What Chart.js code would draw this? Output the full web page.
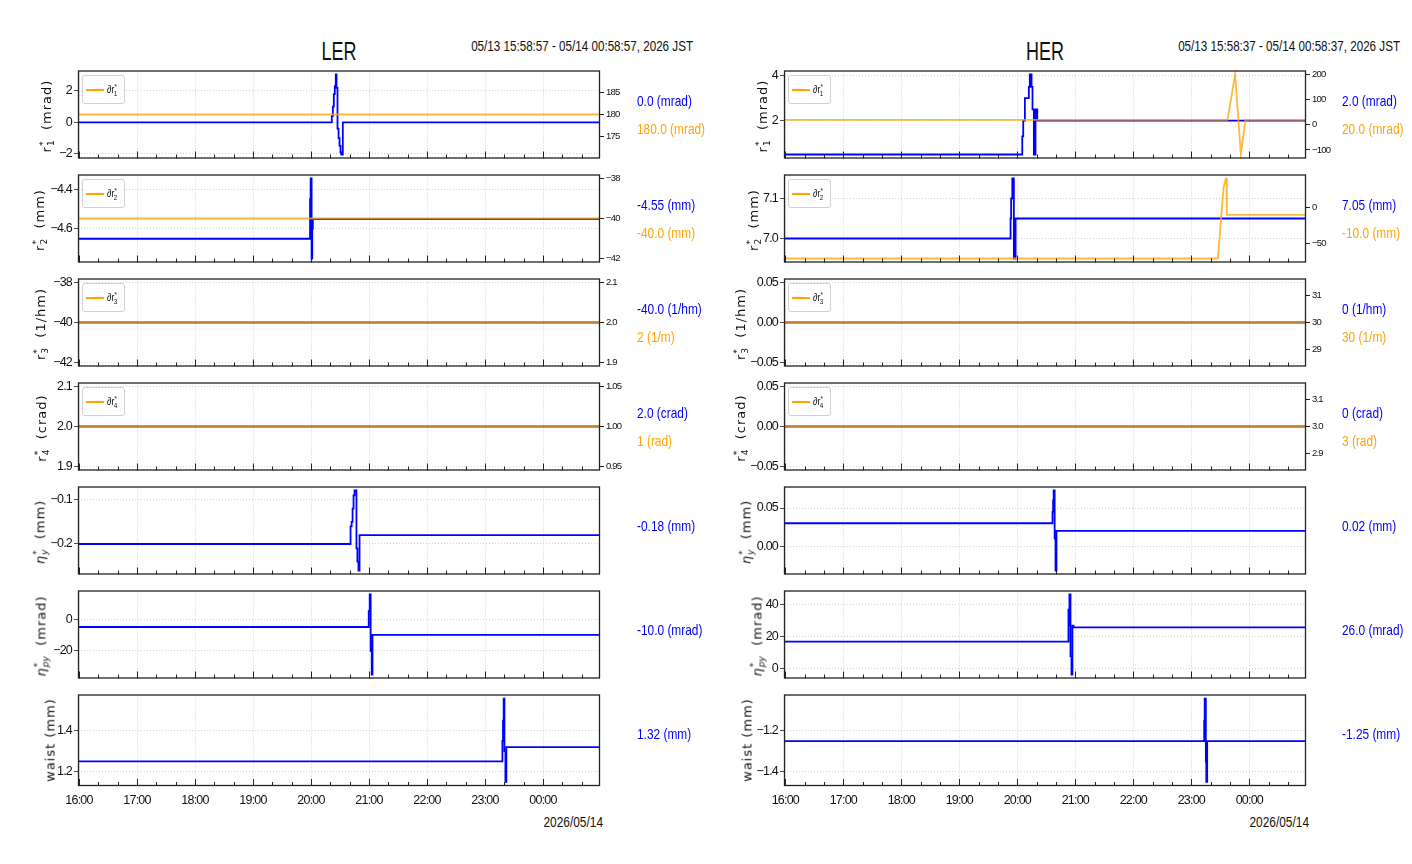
<!DOCTYPE html>
<html>
<head>
<meta charset="utf-8">
<script src="https://cdn.jsdelivr.net/npm/chart.js@4.4.1/dist/chart.umd.min.js"></script>
<style>
  body { margin: 0; background: #fff; }
  #fig { position: relative; width: 1412px; height: 864px; overflow: hidden;
         font-family: "Liberation Sans", Arial, sans-serif; color: #111; }
  #fig canvas { position: absolute; }
  .txt { position: absolute; white-space: nowrap; line-height: 1; }
  .txt > span { display: inline-block; }
  .ylab { position: absolute; white-space: nowrap; font-family: "DejaVu Sans", sans-serif; font-size: 13px;
          letter-spacing: 1px; line-height: 1; transform: translate(-50%, -50%) rotate(-90deg); }
  .sp { font-size: 0.7em; position: relative; top: -0.5em; letter-spacing: 0; }
  .sb { font-size: 0.7em; position: relative; top: 0.35em; margin-left: -0.5em; letter-spacing: 0; }
  .legend { position: absolute; width: 43px; height: 29px; border: 1px solid #d0d0d0; border-radius: 3px;
            background: rgba(255,255,255,0.85); box-sizing: border-box; }
  .legend .ln { position: absolute; left: 3px; top: 13px; width: 18px; height: 2px; background: #ffa500; }
  .legend .lt { position: absolute; left: 24px; top: 8px; font-size: 11px; white-space: nowrap; line-height: 1;
                transform: scaleX(0.82); transform-origin: left; }
</style>
</head>
<body>
<div id="fig"></div>
<script>
const TICK_FONT = '"Liberation Sans", Arial, sans-serif';
const BLUE = '#0000ff';
const ORANGE = 'rgba(255,165,0,0.78)';

// time axis: minutes after 05/13 16:00 JST
const HOUR_TICKS = [0, 60, 120, 180, 240, 300, 360, 420, 480];
const HOUR_LABELS = ['16:00', '17:00', '18:00', '19:00', '20:00', '21:00', '22:00', '23:00', '00:00'];
const MINOR_TICKS = [20, 40, 80, 100, 140, 160, 200, 220, 260, 280, 320, 340, 380, 400, 440, 460, 500, 520];
const LER_SPAN = [-1.05, 538.95];   // 15:58:57 .. 00:58:57
const HER_SPAN = [-1.38, 538.62];   // 15:58:37 .. 00:58:37

// ---- LER measured (blue, left axis) and set values (orange, right axis) ----
const LER_R1_T = [-1.05, 261.5, 262.6, 263.6, 264.6, 265.6, 266.4, 267.4, 268.5, 269.5, 270.5, 271.2, 272.9, 538.95];
const LER_R1 = [0, 0.4, 1.0, 1.8, 2.3, 3.05, 2.2, -0.4, -1.0, -1.5, -1.9, -2.05, 0, 0];
const LER_R1_SET = [180, 180];
const LER_R2_T = [-1.05, 239.0, 239.6, 240.6, 241.3, 241.9, 538.95];
const LER_R2 = [-4.65, -4.45, -4.345, -4.75, -4.6, -4.55, -4.55];
const LER_R2_SET = [-40, -40];
const LER_R3 = [-40, -40];
const LER_R3_SET = [2, 2];
const LER_R4 = [2.0, 2.0];
const LER_R4_SET = [1, 1];
const LER_NY_T = [-1.05, 280.9, 282.0, 283.0, 284.0, 285.0, 287.0, 288.0, 289.1, 290.2, 538.95];
const LER_NY = [-0.2, -0.16, -0.15, -0.12, -0.09, -0.079, -0.21, -0.24, -0.26, -0.18, -0.18];
const LER_NPY_T = [-1.05, 299.7, 300.7, 301.7, 302.8, 303.6, 538.95];
const LER_NPY = [-5, 5, 15.5, -20, -35, -10, -10];
const LER_WAIST_T = [-1.05, 438.0, 438.6, 439.3, 440.1, 441.1, 442.1, 538.95];
const LER_WAIST = [1.25, 1.35, 1.45, 1.557, 1.3, 1.15, 1.32, 1.32];

// ---- HER ----
const HER_R1_T = [-1.38, 245.1, 246.1, 247.8, 251.9, 252.9, 254.7, 255.7, 257.1, 258.8, 260.6, 538.62];
const HER_R1 = [0.5, 1.3, 2.0, 3.0, 3.5, 4.05, 3.5, 2.5, 0.5, 2.5, 2.0, 2.0];
const HER_R1_SET_T = [-1.38, 457.4, 465.3, 471.2, 476.0, 538.62];
const HER_R1_SET = [20, 20, 200, -118, 20, 20];
const HER_R2_T = [-1.38, 233.0, 233.6, 234.8, 236.4, 238.2, 538.62];
const HER_R2 = [7.0, 7.05, 7.1, 7.15, 6.95, 7.05, 7.05];
const HER_R2_SET_T = [-1.38, 447.5, 453.3, 455.7, 456.3, 456.8, 538.62];
const HER_R2_SET = [-71, -71, 28, 41, 41, -10, -10];
const HER_R3 = [0, 0];
const HER_R3_SET = [30, 30];
const HER_R4 = [0, 0];
const HER_R4_SET = [3, 3];
const HER_NY_T = [-1.38, 276.4, 277.0, 277.6, 278.6, 279.5, 280.5, 538.62];
const HER_NY = [0.03, 0.045, 0.06, 0.073, 0.01, -0.032, 0.02, 0.02];
const HER_NPY_T = [-1.38, 292.9, 293.4, 293.9, 295.0, 296.0, 297.0, 298.1, 538.62];
const HER_NPY = [17, 37, 27, 46.5, 8, -3.5, 27, 26, 26];
const HER_WAIST_T = [-1.38, 433.3, 433.8, 434.3, 435.0, 435.5, 436.4, 538.62];
const HER_WAIST = [-1.25, -1.15, -1.043, -1.043, -1.35, -1.448, -1.25, -1.25];

// ---- tick values ----
const LER_YTICKS = [[-2, 0, 2], [-4.6, -4.4], [-42, -40, -38], [1.9, 2.0, 2.1], [-0.2, -0.1], [-20, 0], [1.2, 1.4]];
const LER_YDEC = [0, 1, 0, 1, 1, 0, 1];
const LER_Y2TICKS = [[175, 180, 185], [-42, -40, -38], [1.9, 2.0, 2.1], [0.95, 1.00, 1.05]];
const LER_Y2DEC = [0, 0, 1, 2];
const HER_YTICKS = [[2, 4], [7.0, 7.1], [-0.05, 0, 0.05], [-0.05, 0, 0.05], [0, 0.05], [0, 20, 40], [-1.4, -1.2]];
const HER_YDEC = [0, 1, 2, 2, 2, 0, 1];
const HER_Y2TICKS = [[-100, 0, 100, 200], [-50, 0], [29, 30, 31], [2.9, 3.0, 3.1]];
const HER_Y2DEC = [0, 0, 0, 1];

// ---- texts ----
const LER_VALUE_TEXT = ['0.0 (mrad)', '-4.55 (mm)', '-40.0 (1/hm)', '2.0 (crad)', '-0.18 (mm)', '-10.0 (mrad)', '1.32 (mm)'];
const LER_SET_TEXT = ['180.0 (mrad)', '-40.0 (mm)', '2 (1/m)', '1 (rad)'];
const HER_VALUE_TEXT = ['2.0 (mrad)', '7.05 (mm)', '0 (1/hm)', '0 (crad)', '0.02 (mm)', '26.0 (mrad)', '-1.25 (mm)'];
const HER_SET_TEXT = ['20.0 (mrad)', '-10.0 (mm)', '30 (1/m)', '3 (rad)'];
const ss = (a, b) => `<span class="sp">${a}</span><span class="sb">${b}</span>`;
const Y_LABELS = [
  `r${ss('*', '1')}&nbsp;&nbsp;(mrad)`, `r${ss('*', '2')}&nbsp;&nbsp;(mm)`, `r${ss('*', '3')}&nbsp;&nbsp;(1/hm)`, `r${ss('*', '4')}&nbsp;&nbsp;(crad)`,
  `<i>η</i>${ss('*', '<i>y</i>')}&nbsp;&nbsp;(mm)`, `<i>η</i>${ss('*', '<i>py</i>')}&nbsp;&nbsp;(mrad)`, `waist&nbsp;(mm)`
];

// ---- layout ----
const ROW_TOPS = [69, 173, 277, 381, 485, 589, 693];
const PLOT_H = 93;
const PLOT_W = 522;
const COLS = [
  { name: 'LER', left: 78, span: LER_SPAN, date: '05/13 15:58:57 - 05/14 00:58:57, 2026 JST', dateRight: 693,
    ylabX: [47, 40, 41, 42, 40, 41, 50], textX: 637,
    series: [[LER_R1_T, LER_R1], [LER_R2_T, LER_R2], [LER_SPAN, LER_R3], [LER_SPAN, LER_R4],
             [LER_NY_T, LER_NY], [LER_NPY_T, LER_NPY], [LER_WAIST_T, LER_WAIST]],
    sets: [[LER_SPAN, LER_R1_SET], [LER_SPAN, LER_R2_SET], [LER_SPAN, LER_R3_SET], [LER_SPAN, LER_R4_SET]],
    yticks: LER_YTICKS, ydec: LER_YDEC, y2ticks: LER_Y2TICKS, y2dec: LER_Y2DEC,
    valueText: LER_VALUE_TEXT, setText: LER_SET_TEXT },
  { name: 'HER', left: 784, span: HER_SPAN, date: '05/13 15:58:37 - 05/14 00:58:37, 2026 JST', dateRight: 1400,
    ylabX: [763, 754, 741, 741, 746, 757, 747], textX: 1342,
    series: [[HER_R1_T, HER_R1], [HER_R2_T, HER_R2], [HER_SPAN, HER_R3], [HER_SPAN, HER_R4],
             [HER_NY_T, HER_NY], [HER_NPY_T, HER_NPY], [HER_WAIST_T, HER_WAIST]],
    sets: [[HER_R1_SET_T, HER_R1_SET], [HER_R2_SET_T, HER_R2_SET], [HER_SPAN, HER_R3_SET], [HER_SPAN, HER_R4_SET]],
    yticks: HER_YTICKS, ydec: HER_YDEC, y2ticks: HER_Y2TICKS, y2dec: HER_Y2DEC,
    valueText: HER_VALUE_TEXT, setText: HER_SET_TEXT }
];

const fig = document.getElementById('fig');

function fmt(v, dec) {
  const s = Math.abs(v) < 1e-12 ? (0).toFixed(dec) : v.toFixed(dec);
  return s.replace('-', '\u2212');
}

// matplotlib-like autoscale: expand singular ranges, then 5% margins
function autoLimits(values) {
  let lo = Math.min(...values), hi = Math.max(...values);
  if (hi - lo < 1e-12) {
    if (lo === 0) { lo = -0.05; hi = 0.05; }
    else { lo -= 0.05 * Math.abs(lo); hi += 0.05 * Math.abs(hi); }
  }
  const d = (hi - lo) * 0.05;
  return [lo - d, hi + d];
}

const toPoints = (t, v) => t.map((x, i) => ({ x: x, y: v[i] }));

const framePlugin = {
  id: 'frame',
  beforeDraw(chart) {
    // squeeze the tick labels a little, the original uses a narrow face
    chart.ctx.letterSpacing = '-0.8px';
  },
  afterDatasetsDraw(chart) {
    const { ctx, chartArea: a, scales: { x } } = chart;
    ctx.save();
    ctx.strokeStyle = '#222';
    ctx.lineWidth = 1;
    ctx.beginPath();
    HOUR_TICKS.forEach(v => {
      const px = Math.round(x.getPixelForValue(v)) + 0.5;
      ctx.moveTo(px, a.bottom); ctx.lineTo(px, a.bottom - 7);
    });
    MINOR_TICKS.forEach(v => {
      const px = Math.round(x.getPixelForValue(v)) + 0.5;
      ctx.moveTo(px, a.bottom); ctx.lineTo(px, a.bottom - 4);
    });
    ctx.stroke();
    ctx.lineWidth = 1.3;
    ctx.strokeRect(a.left + 0.5, a.top + 0.5, a.right - a.left - 1, a.bottom - a.top - 1);
    ctx.restore();
  }
};

// narrow text: anchor = 'left' | 'center' | 'right'
function addText(html, x, y, size, color, anchor, squeeze) {
  const d = document.createElement('div');
  d.className = 'txt';
  const shift = anchor === 'right' ? '-100%' : anchor === 'center' ? '-50%' : '0';
  d.style.left = x + 'px';
  d.style.top = y + 'px';
  d.style.fontSize = size + 'px';
  d.style.color = color || '#111';
  d.style.transform = `translate(${shift}, -50%)`;
  const s = document.createElement('span');
  s.innerHTML = html;
  s.style.transform = `scaleX(${squeeze || 0.82})`;
  s.style.transformOrigin = anchor;
  d.appendChild(s);
  fig.appendChild(d);
}

function buildPanel(col, row) {
  const padL = 50, padR = 40, padT = 8;
  const bottom = row === 6;
  const padB = bottom ? 30 : 6;
  const hasSet = row < 4;
  const w = PLOT_W + padL + padR, h = PLOT_H + padT + padB;
  const canvas = document.createElement('canvas');
  canvas.width = w; canvas.height = h;
  canvas.style.left = (col.left - padL) + 'px';
  canvas.style.top = (ROW_TOPS[row] - padT) + 'px';
  canvas.style.width = w + 'px'; canvas.style.height = h + 'px';
  fig.appendChild(canvas);

  const [t, v] = col.series[row];
  const datasets = [];
  const scales = {
    x: {
      type: 'linear', min: col.span[0], max: col.span[1],
      afterBuildTicks: s => { s.ticks = HOUR_TICKS.map(val => ({ value: val })); },
      afterFit: s => { s.height = padB; },
      grid: { color: '#c4c4c4', lineWidth: 0.8, drawTicks: false },
      border: { display: false, dash: [1, 2] },
      ticks: { display: bottom, color: '#111', font: { family: TICK_FONT, size: 12.5 }, padding: 7,
               maxRotation: 0, autoSkip: false, callback: (val, i) => HOUR_LABELS[i] }
    }
  };
  const lim = autoLimits(v);
  const yticks = col.yticks[row], ydec = col.ydec[row];
  scales.y = {
    position: 'left', min: lim[0], max: lim[1],
    afterBuildTicks: s => { s.ticks = yticks.map(val => ({ value: val })); },
    afterFit: s => { s.width = padL; },
    grid: { color: '#c4c4c4', lineWidth: 0.8, tickColor: '#222', tickLength: 4, drawTicks: true },
    border: { display: false, dash: [1, 2] },
    ticks: { color: '#111', font: { family: TICK_FONT, size: 12.5 }, padding: 2, callback: val => fmt(val, ydec) }
  };
  if (hasSet) {
    const [t2, v2] = col.sets[row];
    const lim2 = autoLimits(v2);
    const y2ticks = col.y2ticks[row], y2dec = col.y2dec[row];
    scales.y2 = {
      position: 'right', min: lim2[0], max: lim2[1],
      afterBuildTicks: s => { s.ticks = y2ticks.map(val => ({ value: val })); },
      afterFit: s => { s.width = padR; },
      grid: { drawOnChartArea: false, tickColor: '#222', tickLength: 4, drawTicks: true },
      border: { display: false },
      ticks: { color: '#111', font: { family: TICK_FONT, size: 9.5 }, padding: 2, callback: val => fmt(val, y2dec) }
    };
    datasets.push({ data: toPoints(t2, v2), yAxisID: 'y2', borderColor: ORANGE, borderWidth: 1.8,
                    pointRadius: 0, stepped: false, order: 0 });
  }
  datasets.push({ data: toPoints(t, v), yAxisID: 'y', borderColor: BLUE, borderWidth: 1.8,
                  pointRadius: 0, stepped: true, order: 1 });

  new Chart(canvas, {
    type: 'line',
    data: { datasets },
    options: {
      responsive: false, animation: false, devicePixelRatio: 1,
      layout: { padding: { top: padT, right: hasSet ? 0 : padR, left: 0, bottom: 0 } },
      plugins: { legend: { display: false }, tooltip: { enabled: false } },
      scales
    },
    plugins: [framePlugin]
  });

  // axis label, value read-outs, legend
  const top = ROW_TOPS[row];
  const yl = document.createElement('div');
  yl.className = 'ylab';
  yl.innerHTML = Y_LABELS[row];
  yl.style.left = col.ylabX[row] + 'px';
  yl.style.top = (top + PLOT_H / 2) + 'px';
  fig.appendChild(yl);

  if (hasSet) {
    addText(col.valueText[row], col.textX, top + 32, 14.5, BLUE, 'left');
    addText(col.setText[row], col.textX, top + 60, 14.5, '#ffa500', 'left');
    const lg = document.createElement('div');
    lg.className = 'legend';
    lg.style.left = (col.left + 4) + 'px';
    lg.style.top = (top + 6) + 'px';
    lg.innerHTML = `<div class="ln"></div><div class="lt">∂r${ss('*', row + 1)}</div>`;
    fig.appendChild(lg);
  } else {
    addText(col.valueText[row], col.textX, top + 41, 14.5, BLUE, 'left');
  }
}

COLS.forEach(col => {
  addText(col.name, col.left + PLOT_W / 2, 51, 25, '#111', 'center', 0.72);
  addText(col.date, col.dateRight, 46, 14.2, '#111', 'right');
  addText('2026/05/14', col.left + PLOT_W + 3, 822, 14.5, '#111', 'right');
  for (let r = 0; r < 7; r++) buildPanel(col, r);
});
</script>
</body>
</html>
